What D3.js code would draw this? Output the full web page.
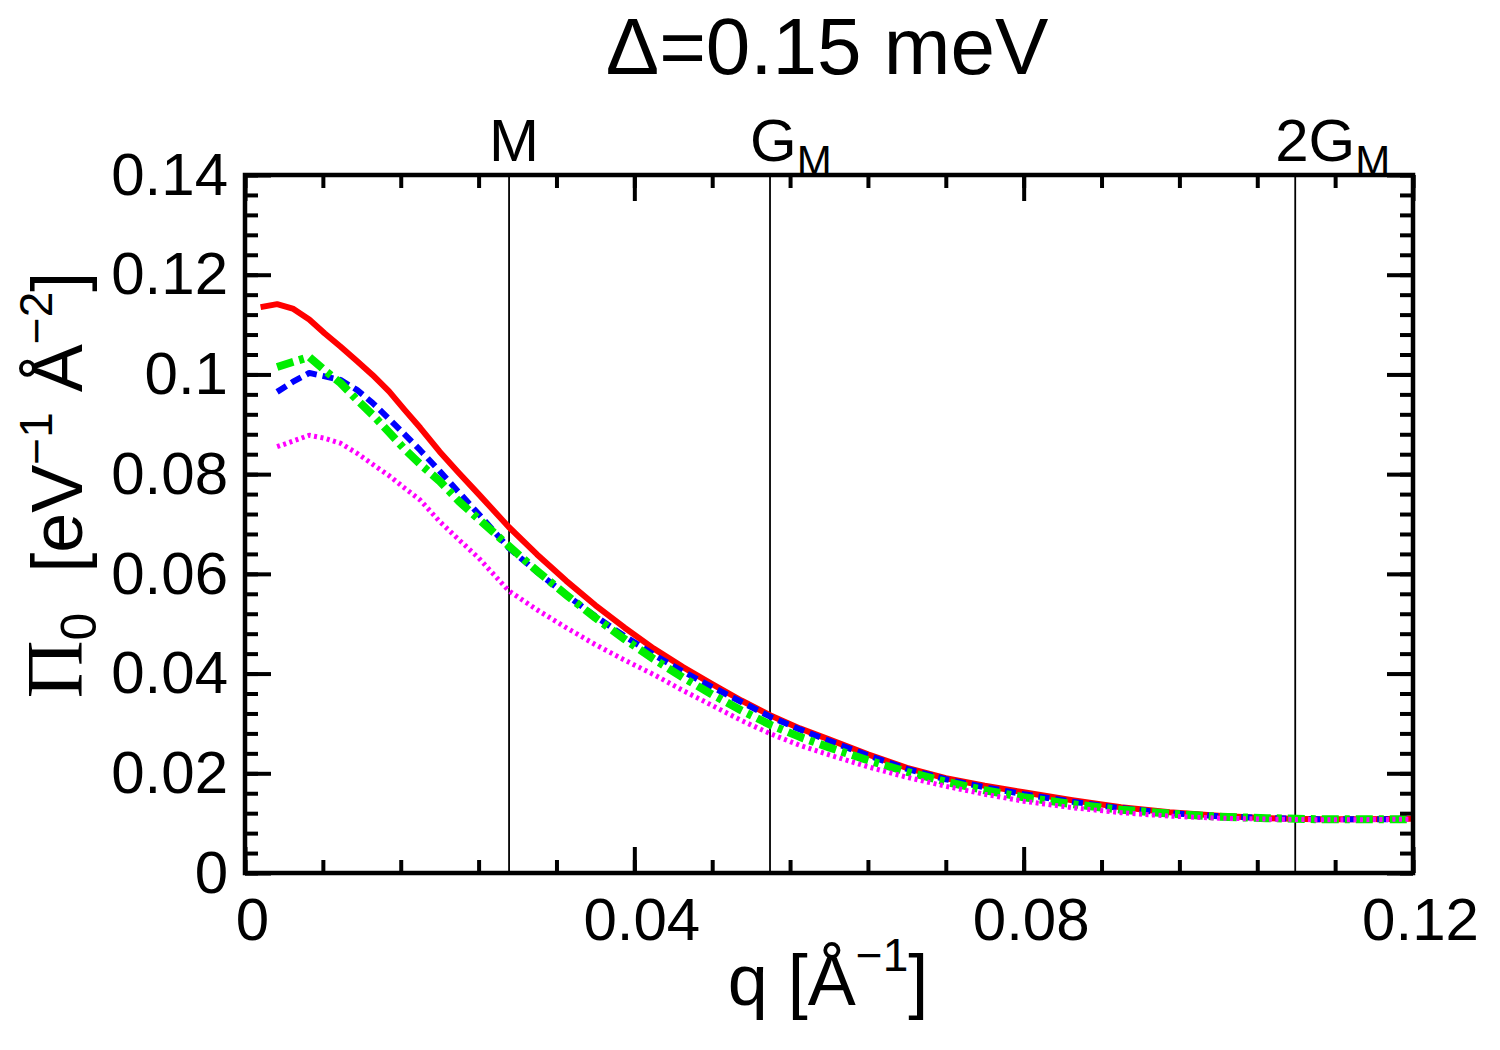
<!DOCTYPE html>
<html><head><meta charset="utf-8">
<script src="https://cdn.jsdelivr.net/npm/d3@7"></script>
<style>
body{margin:0;background:#fff;}
text{font-family:"Liberation Sans",Arial,Helvetica,sans-serif;fill:#000;}
</style></head>
<body>
<svg id="chart" width="1500" height="1050"></svg>
<script>
// ---------- data ----------
const qValues = [0.0016,0.0033,0.0049,0.0066,0.0082,0.0098,0.0115,0.0131,0.0148,0.0164,0.018,0.020,0.022,0.024,0.0271,0.030,0.033,0.036,0.039,0.042,0.045,0.048,0.051,0.054,0.057,0.060,0.064,0.068,0.072,0.076,0.080,0.085,0.090,0.095,0.100,0.105,0.110,0.115,0.120];
const redValues = [0.1135,0.1141,0.1132,0.1110,0.1082,0.1056,0.1027,0.0999,0.0966,0.0929,0.0893,0.0845,0.0802,0.0760,0.0694,0.0639,0.0586,0.0537,0.0492,0.0450,0.0413,0.0379,0.0346,0.0316,0.0290,0.0268,0.0238,0.0211,0.0190,0.0175,0.0162,0.0146,0.0132,0.0122,0.0115,0.0110,0.0108,0.0108,0.0109];
const blueValues = [null,0.0965,0.0985,0.1003,0.0996,0.0989,0.0969,0.0943,0.0911,0.0880,0.0848,0.0806,0.0763,0.0720,0.0652,0.0604,0.0558,0.0515,0.0475,0.0438,0.0404,0.0373,0.0343,0.0313,0.0288,0.0265,0.0236,0.0209,0.0188,0.0172,0.0158,0.0143,0.0130,0.0120,0.0114,0.0110,0.0108,0.0108,0.0108];
const greenValues = [null,0.1015,0.1025,0.1035,0.1008,0.0983,0.0949,0.0919,0.0884,0.0850,0.0820,0.0786,0.0745,0.0710,0.0656,0.0606,0.0558,0.0512,0.0469,0.0429,0.0392,0.0358,0.0326,0.0297,0.0273,0.0252,0.0226,0.0203,0.0183,0.0166,0.0152,0.0138,0.0127,0.0119,0.0113,0.0110,0.0108,0.0108,0.0108];
const magentaValues = [null,0.0855,0.0866,0.0878,0.0872,0.0862,0.0842,0.0820,0.0797,0.0772,0.0748,0.0705,0.0668,0.0632,0.0566,0.0528,0.0492,0.0458,0.0427,0.0398,0.0366,0.0336,0.0306,0.0279,0.0256,0.0237,0.0213,0.0192,0.0174,0.0158,0.0144,0.0131,0.0121,0.0114,0.0110,0.0108,0.0107,0.0107,0.0108];

const seriesNames = ["red","blue","green","magenta"];
const seriesColors = ["#ff0000","#0000ff","#00ee00","#ff00ff"];

const xTickValues = [0,0.04,0.08,0.12];
const xTickLabels = ["0","0.04","0.08","0.12"];
const yTickValues = [0,0.02,0.04,0.06,0.08,0.1,0.12,0.14];
const yTickLabels = ["0","0.02","0.04","0.06","0.08","0.1","0.12","0.14"];

const markerPositions = [0.02713,0.05394,0.1079];
const markerMain = ["M","G","2G"];
const markerSub = ["","M","M"];

const titleText = "Δ=0.15 meV";

// ---------- layout ----------
const L=245, R=1413, T=175, B=873;
const svg = d3.select("#chart");
const x = d3.scaleLinear().domain([0,0.12]).range([L,R]);
const y = d3.scaleLinear().domain([0,0.14]).range([B,T]);

const xMinor = d3.range(0,0.1201,0.008);
const yMinor = d3.range(0,0.1401,0.004);

svg.append("clipPath").attr("id","clip").append("rect")
  .attr("x",L).attr("y",T).attr("width",R-L).attr("height",B-T);

// marker vertical lines
svg.append("g").selectAll("line").data(markerPositions).join("line")
  .attr("x1",d=>x(d)).attr("x2",d=>x(d)).attr("y1",T).attr("y2",B)
  .attr("stroke","#000").attr("stroke-width",1.8);

// series
const styles = {
  red:{w:6,dash:null},
  blue:{w:6,dash:"11,6"},
  green:{w:8,dash:"17,6,5,6"},
  magenta:{w:5,dash:"3,3.5"}
};
const seriesData = {red:redValues,blue:blueValues,green:greenValues,magenta:magentaValues};
const line = d3.line().defined(d=>d[1]!==null).x(d=>x(d[0])).y(d=>y(d[1]));
const gLines = svg.append("g").attr("clip-path","url(#clip)");
seriesNames.forEach((name,i)=>{
  const pts = qValues.map((q,j)=>[q,seriesData[name][j]]);
  gLines.append("path").datum(pts).attr("d",line)
    .attr("fill","none").attr("stroke",seriesColors[i])
    .attr("stroke-width",styles[name].w)
    .attr("stroke-dasharray",styles[name].dash)
    .attr("stroke-linejoin","round");
});

// axes
function styleAxis(g){
  g.select(".domain").remove();
  g.selectAll(".tick line").attr("stroke","#000").attr("stroke-width",4);
  g.selectAll("text").style("font-family","'Liberation Sans',Arial,sans-serif").style("font-size","60px").attr("fill","#000");
}
svg.append("g").attr("transform",`translate(0,${B})`)
  .call(d3.axisBottom(x).tickValues(xMinor).tickSize(-13).tickFormat("")).call(styleAxis);
svg.append("g").attr("transform",`translate(0,${T})`)
  .call(d3.axisTop(x).tickValues(xMinor).tickSize(-13).tickFormat("")).call(styleAxis);
svg.append("g").attr("transform",`translate(${L},0)`)
  .call(d3.axisLeft(y).tickValues(yMinor).tickSize(-13).tickFormat("")).call(styleAxis);
svg.append("g").attr("transform",`translate(${R},0)`)
  .call(d3.axisRight(y).tickValues(yMinor).tickSize(-13).tickFormat("")).call(styleAxis);

const gxb = svg.append("g").attr("transform",`translate(0,${B})`)
  .call(d3.axisBottom(x).tickValues(xTickValues).tickSize(-26).tickPadding(24)
    .tickFormat((d,i)=>xTickLabels[i])).call(styleAxis);
gxb.selectAll("text").attr("dx",7);
svg.append("g").attr("transform",`translate(0,${T})`)
  .call(d3.axisTop(x).tickValues(xTickValues).tickSize(-26).tickFormat("")).call(styleAxis);
svg.append("g").attr("transform",`translate(${L},0)`)
  .call(d3.axisLeft(y).tickValues(yTickValues).tickSize(-26).tickPadding(17)
    .tickFormat((d,i)=>yTickLabels[i])).call(styleAxis);
svg.append("g").attr("transform",`translate(${R},0)`)
  .call(d3.axisRight(y).tickValues(yTickValues).tickSize(-26).tickFormat("")).call(styleAxis);

// frame
svg.append("rect").attr("x",L).attr("y",T).attr("width",R-L).attr("height",B-T)
  .attr("fill","none").attr("stroke","#000").attr("stroke-width",4.5);

// marker labels
markerPositions.forEach((p,i)=>{
  const t = svg.append("text").attr("x",x(p)-20).attr("y",161).style("font-size","60px");
  t.append("tspan").text(markerMain[i]);
  if(markerSub[i]) t.append("tspan").attr("dy",14).style("font-size","42px").text(markerSub[i]);
});

// title
svg.append("text").attr("x",827).attr("y",74).attr("text-anchor","middle")
  .style("font-size","80px").text(titleText);

// x label
const xl = svg.append("text").attr("x",828).attr("y",1005).attr("text-anchor","middle").style("font-size","72px");
xl.append("tspan").text("q [Å");
xl.append("tspan").attr("dy",-34).style("font-size","46px").text("−1");
xl.append("tspan").attr("dy",34).text("]");

// y label
const yl = svg.append("text").attr("transform","translate(82,485) rotate(-90)")
  .attr("text-anchor","middle").style("font-size","72px");
yl.append("tspan").style("font-family","'Liberation Serif','Times New Roman',serif").style("font-size","80px").text("Π");
yl.append("tspan").attr("dy",14).style("font-size","50px").text("0");
yl.append("tspan").attr("dy",-14).text("\u00a0 [eV");
yl.append("tspan").attr("dy",-30).style("font-size","46px").text("−1");
yl.append("tspan").attr("dy",30).text("\u00a0Å");
yl.append("tspan").attr("dy",-30).style("font-size","46px").text("−2");
yl.append("tspan").attr("dy",30).text("]");
</script>
</body></html>
